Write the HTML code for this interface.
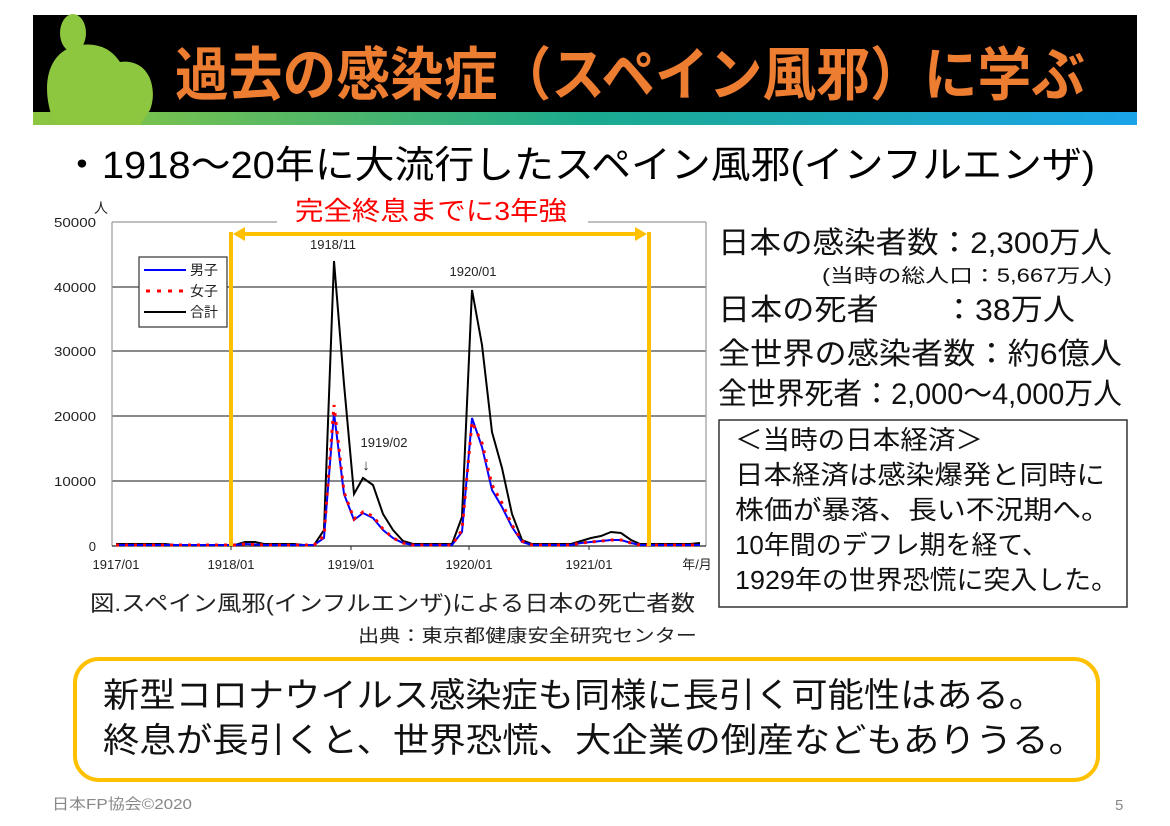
<!DOCTYPE html>
<html><head><meta charset="utf-8"><style>
html,body{margin:0;padding:0;background:#fff;}
svg{display:block;}
text{font-family:"Liberation Sans","Noto Sans CJK JP",sans-serif;}
</style></head><body>
<svg width="1170" height="826" viewBox="0 0 1170 826" xmlns="http://www.w3.org/2000/svg">
<defs>
<linearGradient id="g" x1="0" x2="1" y1="0" y2="0">
<stop offset="0" stop-color="#8DC63F"/><stop offset="0.5" stop-color="#1BAA8E"/><stop offset="1" stop-color="#1AA3E8"/>
</linearGradient>
</defs>
<rect x="33" y="15" width="1104" height="98" fill="#000"/>
<rect x="33" y="112" width="1104" height="13" fill="url(#g)"/>
<ellipse cx="73" cy="33" rx="13" ry="19" fill="#8DC63F"/>
<path d="M55 125 C40 90 45 50 80 45 C105 42 115 55 120 62 C150 58 158 90 150 110 L140 125 Z" fill="#8DC63F"/>
<text x="175" y="95" font-size="58" font-weight="bold" fill="#ED7D31" textLength="910" lengthAdjust="spacingAndGlyphs">過去の感染症（スペイン風邪）に学ぶ</text>

<text x="62" y="178" font-size="38" fill="#000" textLength="1033" lengthAdjust="spacingAndGlyphs">・1918〜20年に大流行したスペイン風邪(インフルエンザ)</text>

<!-- chart -->
<g stroke="#444" stroke-width="1.2">
<line x1="112" y1="287" x2="706" y2="287"/>
<line x1="112" y1="351" x2="706" y2="351"/>
<line x1="112" y1="416" x2="706" y2="416"/>
<line x1="112" y1="481" x2="706" y2="481"/>
</g>
<g stroke="#999" stroke-width="1.2" fill="none">
<line x1="112" y1="222" x2="112" y2="546"/>
<line x1="706" y1="222" x2="706" y2="546"/>
<line x1="112" y1="222" x2="277" y2="222"/>
<line x1="588" y1="222" x2="706" y2="222"/>
</g>
<line x1="112" y1="546" x2="706" y2="546" stroke="#222" stroke-width="1.2"/>
<g stroke="#222" stroke-width="1">
<line x1="231" y1="546" x2="231" y2="550"/><line x1="351" y1="546" x2="351" y2="550"/><line x1="469" y1="546" x2="469" y2="550"/><line x1="589" y1="546" x2="589" y2="550"/>
</g>
<g font-size="13" fill="#222" text-anchor="end">
<text x="96" y="227" textLength="42" lengthAdjust="spacingAndGlyphs">50000</text>
<text x="96" y="292" textLength="42" lengthAdjust="spacingAndGlyphs">40000</text>
<text x="96" y="356" textLength="42" lengthAdjust="spacingAndGlyphs">30000</text>
<text x="96" y="421" textLength="42" lengthAdjust="spacingAndGlyphs">20000</text>
<text x="96" y="486" textLength="42" lengthAdjust="spacingAndGlyphs">10000</text>
<text x="96" y="551">0</text>
</g>
<text x="94" y="213" font-size="14" fill="#222">人</text>
<g font-size="13" fill="#222" text-anchor="middle">
<text x="116" y="569">1917/01</text>
<text x="231" y="569">1918/01</text>
<text x="351" y="569">1919/01</text>
<text x="469" y="569">1920/01</text>
<text x="589" y="569">1921/01</text>
<text x="697" y="569">年/月</text>
<text x="333" y="249">1918/11</text>
<text x="473" y="276">1920/01</text>
<text x="384" y="447">1919/02</text>
<text x="366" y="470" font-size="15">↓</text>
</g>
<!-- legend -->
<rect x="139" y="257" width="88" height="70" fill="#fff" stroke="#333" stroke-width="1.2"/>
<line x1="144" y1="270" x2="186" y2="270" stroke="#00f" stroke-width="2"/>
<line x1="146" y1="291" x2="186" y2="291" stroke="#f00" stroke-width="3" stroke-dasharray="4,7"/>
<line x1="144" y1="312" x2="186" y2="312" stroke="#000" stroke-width="2"/>
<g font-size="14" fill="#222"><text x="190" y="275">男子</text><text x="190" y="296">女子</text><text x="190" y="317">合計</text></g>

<polyline fill="none" stroke="#000" stroke-width="2" points="116,544 126,544 136,544 146,544 156,544 165,544 175,545 185,545 195,545 205,545 215,545 225,545 235,545 245,542 255,542 264,544 274,544 284,544 294,544 304,545 314,545 324,530 334,261 344,384 354,494 363,478 373,485 383,514 393,530 403,541 413,544 423,544 433,544 443,544 452,544 462,517 472,290 482,345 492,432 502,468 512,514 522,540 532,544 541,544 551,544 561,544 571,544 581,541 591,538 601,536 611,532 621,533 631,540 640,544 650,544 660,544 670,544 680,544 690,544 700,543"/>
<polyline fill="none" stroke="#00f" stroke-width="2" points="116,545 175,545 235,545 245,544 264,545 314,545 324,538 334,413 344,494 354,520 363,513 373,518 383,530 393,538 403,543 413,545 452,545 462,532 472,418 482,447 492,490 502,507 512,527 522,542 532,545 571,545 581,543 591,542 611,540 621,540 631,543 640,545 700,545"/>
<polyline fill="none" stroke="#f00" stroke-width="3" stroke-dasharray="3,6" points="116,545 175,545 235,545 245,544 264,545 314,545 324,536 334,405 344,492 354,519 363,512 373,516 383,529 393,538 403,543 413,545 452,545 462,530 472,422 482,443 492,485 502,503 512,525 522,541 532,545 571,545 581,543 591,542 611,540 621,540 631,543 640,545 700,545"/>

<!-- yellow bracket -->
<g stroke="#FFC000" stroke-width="4" fill="none">
<line x1="231" y1="232" x2="231" y2="546"/>
<line x1="649" y1="232" x2="649" y2="546"/>
<line x1="236" y1="234" x2="644" y2="234"/>
</g>
<polygon points="233,234 245,227 245,241" fill="#FFC000"/>
<polygon points="647,234 635,227 635,241" fill="#FFC000"/>
<text x="295" y="220" font-size="26" fill="#FF0000" textLength="272" lengthAdjust="spacingAndGlyphs">完全終息までに3年強</text>

<!-- right text -->
<g fill="#111">
<text x="718" y="253" font-size="30" textLength="394" lengthAdjust="spacingAndGlyphs">日本の感染者数：2,300万人</text>
<text x="822" y="282" font-size="19" textLength="290" lengthAdjust="spacingAndGlyphs">(当時の総人口：5,667万人)</text>
<text x="718" y="320" font-size="30" textLength="357" lengthAdjust="spacingAndGlyphs">日本の死者　　：38万人</text>
<text x="718" y="364" font-size="30" textLength="404" lengthAdjust="spacingAndGlyphs">全世界の感染者数：約6億人</text>
<text x="718" y="404" font-size="30" textLength="404" lengthAdjust="spacingAndGlyphs">全世界死者：2,000〜4,000万人</text>
</g>
<rect x="719" y="420" width="408" height="187" fill="none" stroke="#333" stroke-width="1.5"/>
<g fill="#111" font-size="26">
<text x="735" y="449" textLength="248" lengthAdjust="spacingAndGlyphs">＜当時の日本経済＞</text>
<text x="735" y="484" textLength="370" lengthAdjust="spacingAndGlyphs">日本経済は感染爆発と同時に</text>
<text x="735" y="519" textLength="375" lengthAdjust="spacingAndGlyphs">株価が暴落、長い不況期へ。</text>
<text x="735" y="554" textLength="313" lengthAdjust="spacingAndGlyphs">10年間のデフレ期を経て、</text>
<text x="735" y="589" textLength="383" lengthAdjust="spacingAndGlyphs">1929年の世界恐慌に突入した。</text>
</g>

<text x="90" y="611" font-size="22" fill="#222" textLength="605" lengthAdjust="spacingAndGlyphs">図.スペイン風邪(インフルエンザ)による日本の死亡者数</text>
<text x="358" y="642" font-size="18" fill="#222" textLength="339" lengthAdjust="spacingAndGlyphs">出典：東京都健康安全研究センター</text>

<rect x="75" y="659" width="1023" height="121" rx="24" fill="#fff" stroke="#FFC000" stroke-width="4"/>
<g fill="#111" font-size="34">
<text x="103" y="707" textLength="942" lengthAdjust="spacingAndGlyphs">新型コロナウイルス感染症も同様に長引く可能性はある。</text>
<text x="103" y="752" textLength="982" lengthAdjust="spacingAndGlyphs">終息が長引くと、世界恐慌、大企業の倒産などもありうる。</text>
</g>
<text x="52" y="809" font-size="15" fill="#888" textLength="140" lengthAdjust="spacingAndGlyphs">日本FP協会©2020</text>
<text x="1115" y="810" font-size="15" fill="#888">5</text>
</svg>
</body></html>
